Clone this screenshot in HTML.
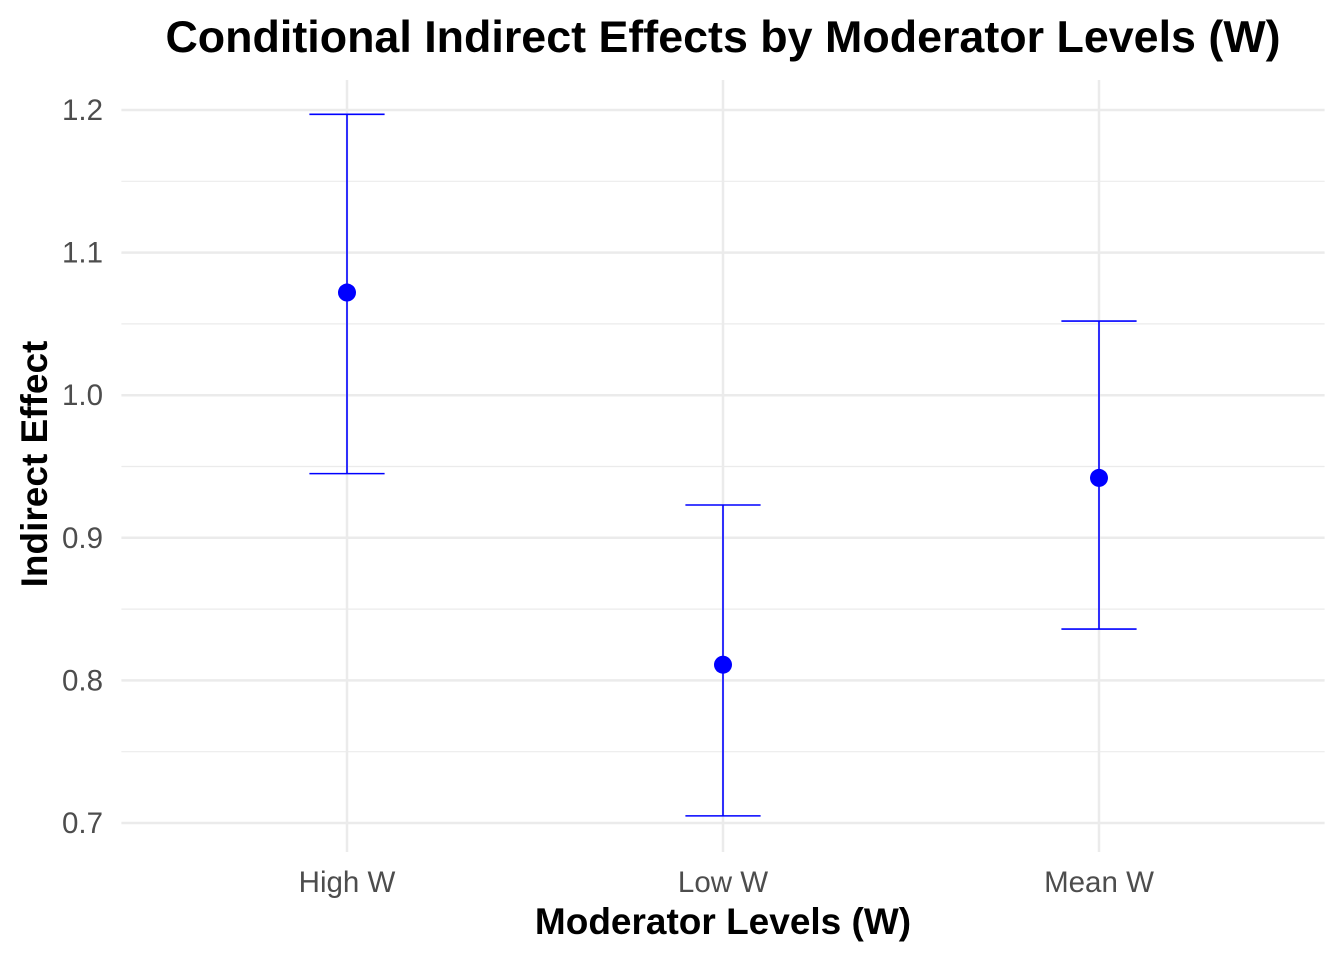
<!DOCTYPE html>
<html><head><meta charset="utf-8"><style>
html,body{margin:0;padding:0;background:#fff;}
svg{display:block;font-family:"Liberation Sans",Arial,sans-serif;}
</style></head><body>
<svg id="chart" width="1344" height="960" viewBox="0 0 1344 960">
<g id="grid"></g>
<g id="marks"></g>
<g id="ticks"></g>
<text x="723" y="52" text-anchor="middle" font-size="44.8" font-weight="bold" fill="#000">Conditional Indirect Effects by Moderator Levels (W)</text>
<text x="723" y="934" text-anchor="middle" font-size="37" font-weight="bold" fill="#000">Moderator Levels (W)</text>
<text transform="translate(47,464) rotate(-90)" text-anchor="middle" font-size="37" font-weight="bold" fill="#000">Indirect Effect</text>
</svg>
<script>
const categories = ["High W","Low W","Mean W"];
const effects = [1.072, 0.811, 0.942];
const lowerCI = [0.945, 0.705, 0.836];
const upperCI = [1.197, 0.923, 1.052];
const yTicks = [0.7, 0.8, 0.9, 1.0, 1.1, 1.2];
const yTickLabels = ["0.7","0.8","0.9","1.0","1.1","1.2"];

const NS="http://www.w3.org/2000/svg";
const px0=121.4, px1=1324.6, pyTop=80, pyBot=852;
const yScale=v=>823+(v-0.7)*(110-823)/0.5;
const step=(px1-px0)/(categories.length-1+1.2);
const xScale=i=>px0+step*(0.6+i);
function mk(tag,attrs,parent){const e=document.createElementNS(NS,tag);for(const k in attrs)e.setAttribute(k,attrs[k]);parent.appendChild(e);return e;}
const grid=document.getElementById('grid'),marks=document.getElementById('marks'),ticks=document.getElementById('ticks');
for(let i=0;i<yTicks.length-1;i++){
  const m=yScale((yTicks[i]+yTicks[i+1])/2);
  const l=mk('line',{x1:px0,x2:px1,y1:m,y2:m,stroke:'#ebebeb','stroke-width':1.2},grid);
  
  
}
yTicks.forEach((v,i)=>{
  const y=yScale(v);
  const l=mk('line',{x1:px0,x2:px1,y1:y,y2:y,stroke:'#ebebeb','stroke-width':2.5},grid);
  
  
  const t=mk('text',{x:103,y:y+10,'text-anchor':'end','font-size':29.5,fill:'#4d4d4d'},ticks);
  t.textContent=yTickLabels[i];
  
  
});
categories.forEach((c,i)=>{
  const x=xScale(i);
  const l=mk('line',{x1:x,x2:x,y1:pyTop,y2:pyBot,stroke:'#ebebeb','stroke-width':2.5},grid);
  
  
  const t=mk('text',{x:x,y:892,'text-anchor':'middle','font-size':29.5,fill:'#4d4d4d'},ticks);
  t.textContent=c;
  
  
  const g=mk('g',{},marks);
  
  
  const yl=yScale(lowerCI[i]),yu=yScale(upperCI[i]),hw=step*0.1;
  mk('line',{x1:x,x2:x,y1:yu,y2:yl,stroke:'#0000ff','stroke-width':1.6},g);
  mk('line',{x1:x-hw,x2:x+hw,y1:yu,y2:yu,stroke:'#0000ff','stroke-width':1.6},g);
  mk('line',{x1:x-hw,x2:x+hw,y1:yl,y2:yl,stroke:'#0000ff','stroke-width':1.6},g);
  const p=mk('circle',{cx:x,cy:yScale(effects[i]),r:9,fill:'#0000ff'},marks);
  
  
});
</script>
</body></html>
